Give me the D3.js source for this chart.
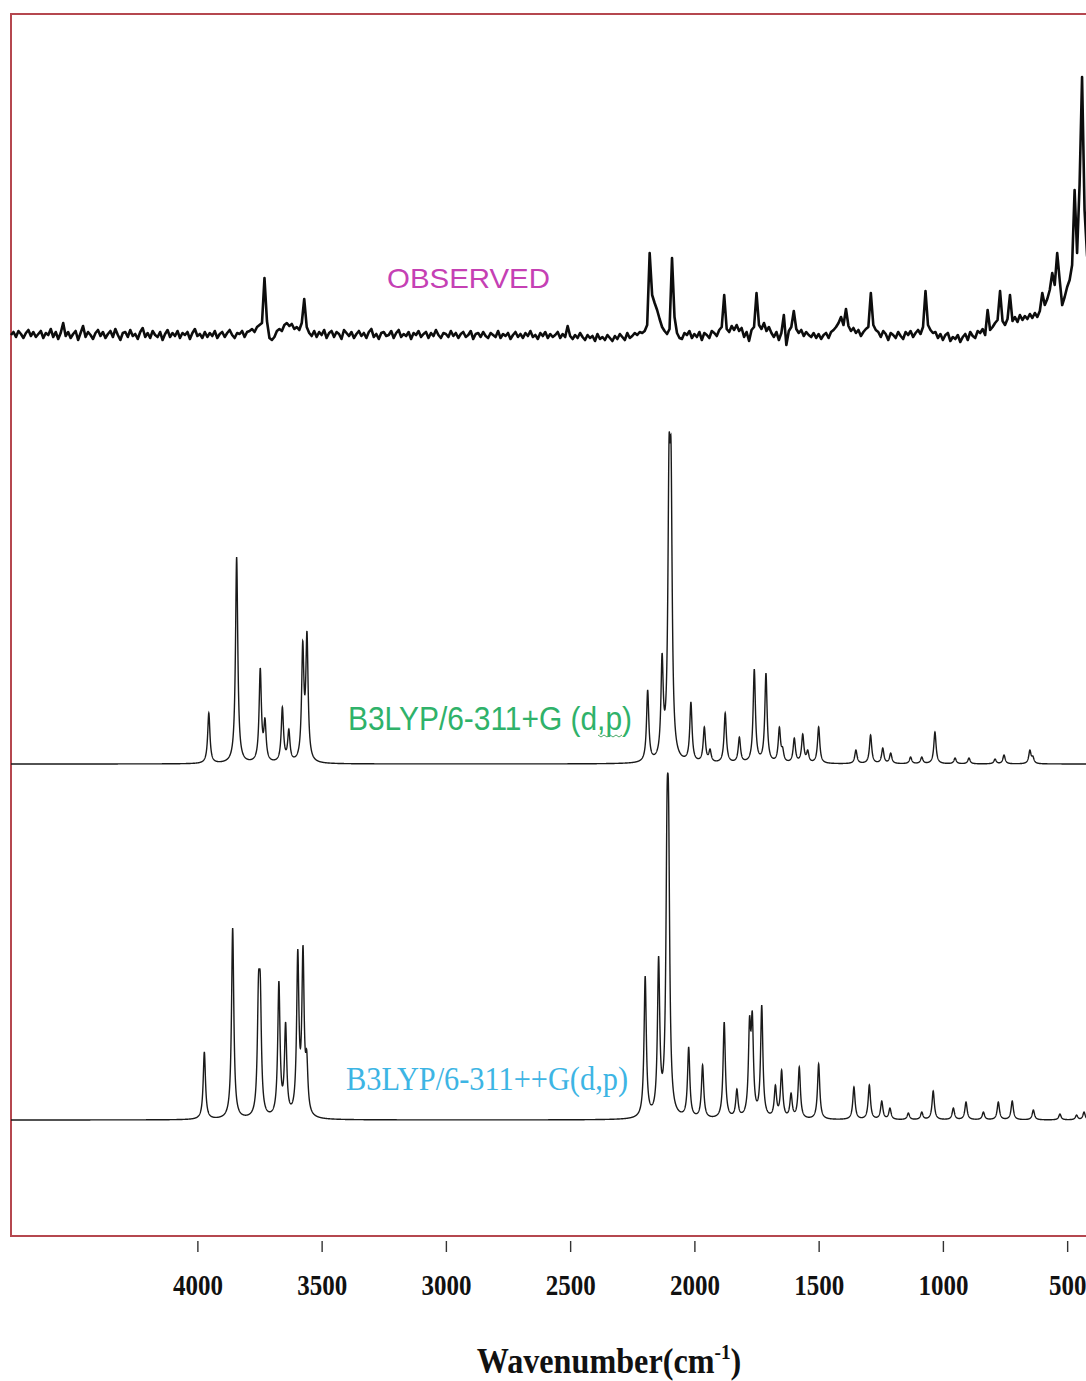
<!DOCTYPE html>
<html><head><meta charset="utf-8">
<script src="https://cdn.jsdelivr.net/npm/d3@7"></script>
<style>body{margin:0;background:#fff} svg{display:block}</style>
</head><body><svg id="c" width="1086" height="1381"></svg>
<script>
// ---------- data ----------
const tickValues = [4000, 3500, 3000, 2500, 2000, 1500, 1000, 500];
const tickLabels = ["4000", "3500", "3000", "2500", "2000", "1500", "1000", "500"];
const seriesNames = ["OBSERVED", "B3LYP/6-311+G (d,p)", "B3LYP/6-311++G(d,p)"];
const axisTitle = "Wavenumber(cm";

// observed spectrum: intensity (a.u.) every 10 cm-1 starting at 4750 cm-1
const obsStart = 4750, obsStep = 10;
const obsValues = [
  0, 3, -2, 4, 1, -3, 2, 5, -1, 3,
  -2, 1, 4, -3, 2, 0, 6, -2, 3, -4,
  2, 12, -1, 3, -3, 1, 4, -5, 2, 9,
  -2, 3, 0, -4, 2, 5, -1, 3, -3, 1,
  4, -2, 6, 0, -5, 2, 3, -2, 5, -1,
  1, -4, 3, 7, -2, 2, -3, 4, 0, -2,
  3, -5, 1, 5, -2, 2, -1, 4, -3, 2,
  0, 3, -4, 2, 6, -1, 1, -3, 3, -2,
  2, -1, 4, -3, 1, 3, -2, 2, 5, 0,
  -3, 2, 1, 4, -2, 3, 4, 6, 3, 8,
  10, 12, 57, 14, -3, -5, -2, 4, 6, 4,
  10, 12, 9, 11, 6, 8, 5, 12, 36, 8,
  2, -1, 4, -2, 3, 0, 5, -3, 2, 4,
  -2, 3, 1, -4, 5, 2, -1, 3, -3, 1,
  4, -1, 2, -3, 3, 6, -2, 1, -4, 2,
  3, -1, 0, 4, -3, 2, 5, -2, 1, -1,
  3, -4, 2, 0, 4, -2, 1, 3, -3, 2,
  -1, 5, 0, -3, 2, 1, -2, 4, -1, 2,
  -3, 1, 3, -2, 0, 4, -4, 1, 2, -2,
  3, -1, -3, 2, 0, -2, 4, -3, 1, -1,
  2, -4, 0, 3, -2, 1, -3, 2, -1, 4,
  -2, 0, -4, 2, -1, 3, -3, 1, -2, 0,
  3, -3, 1, -2, 9, -1, -4, 0, -3, 2,
  -2, -5, 0, -3, -1, -6, 1, -4, -2, -5,
  0, -3, -6, -1, -4, 1, -2, -5, 2, -3,
  -1, 2, 0, 3, 2, 4, 10, 82, 40, 32,
  25, 16, 8, 4, 1, 6, 77, 18, 2, -3,
  -4, 2, 0, 4, -3, 1, -2, 3, -5, 2,
  0, -3, 4, 2, -1, 5, 8, 40, 6, 3,
  9, 5, 10, 4, 7, -2, 3, -6, 5, 8,
  42, 10, 6, 12, 4, 8, 2, -2, 3, -5,
  2, 20, -10, 4, 8, 24, 6, 2, 5, -1,
  3, 0, -2, 2, -3, 1, -4, 0, 2, -3,
  3, 5, 8, 12, 18, 10, 26, 9, 4, 7,
  2, 5, -1, 3, 6, 8, 42, 10, 5, 3,
  -2, 4, 1, -5, 2, 0, -3, 3, -1, -4,
  3, 0, 4, -2, 2, 5, 1, 8, 44, 10,
  5, 2, 3, -3, 1, -5, 0, 2, -6, -2,
  -4, 0, -7, -2, 1, -5, 3, -1, -3, 4,
  2, 6, 0, 25, 5, 8, 12, 15, 44, 14,
  10, 16, 40, 14, 18, 13, 20, 15, 19, 16,
  21, 17, 22, 18, 24, 42, 30, 36, 45, 62,
  50, 82, 55, 30, 38, 48, 55, 70, 145, 82,
  150, 258, 125, 80, 60, 50
];

// B3LYP/6-311+G(d,p): band positions (cm-1) and peak heights (a.u.)
const calc1Centers = [3954, 3842, 3747, 3728, 3658, 3632, 3576, 3559, 2188, 2130, 2102, 2094, 2014, 1960, 1937, 1876, 1819, 1759, 1712, 1658, 1645, 1598, 1564, 1544, 1500, 1350, 1291, 1242, 1210, 1130, 1085, 1032, 951, 895, 790, 754, 650, 638];
const calc1Heights = [51, 207, 96, 46, 57, 35, 123, 133, 74, 111, 326, 322, 62, 37, 15, 51, 27, 95, 91, 37, 17, 26, 30, 14, 37, 14, 29, 16, 11, 7, 7, 32, 6, 6, 5, 9, 14, 8];

// B3LYP/6-311++G(d,p)
const calc2Centers = [3972, 3858, 3754, 3747, 3672, 3645, 3596, 3575, 3560, 2198, 2144, 2110, 2104, 2023, 1967, 1880, 1829, 1778, 1767, 1729, 1674, 1649, 1611, 1578, 1500, 1358, 1296, 1246, 1213, 1139, 1085, 1039, 958, 907, 837, 777, 721, 636, 529, 462, 432];
const calc2Heights = [68, 192, 146, 146, 139, 98, 171, 175, 70, 144, 164, 328, 328, 73, 55, 98, 31, 104, 109, 115, 35, 50, 27, 53, 56, 33, 35, 19, 12, 7, 8, 29, 12, 18, 8, 18, 19, 10, 6, 5, 8];

// ---------- drawing ----------
const svg = d3.select("#c");
const x = d3.scaleLinear().domain([4750, 400]).range([11, 1092]);

const yObs = d3.scaleLinear().domain([0, 260]).range([335, 75]);
const yC1 = d3.scaleLinear().domain([0, 330]).range([764, 434]);
const yC2 = d3.scaleLinear().domain([0, 330]).range([1120, 790]);

function lorentzSpectrum(centers, heights, g) {
  const L = d => 1 / (1 + (d / g) * (d / g));
  const A = heights.slice();
  for (let it = 0; it < 300; it++) {
    for (let i = 0; i < centers.length; i++) {
      let s = 0;
      for (let j = 0; j < centers.length; j++) s += A[j] * L(centers[i] - centers[j]);
      A[i] = Math.max(0, A[i] + 0.5 * (heights[i] - s));
    }
  }
  const pts = [];
  for (let w = 4750; w >= 400; w -= 0.5) {
    let s = 0;
    for (let j = 0; j < centers.length; j++) s += A[j] * L(w - centers[j]);
    pts.push({ w, v: s });
  }
  return pts;
}

// frame
svg.append("rect")
  .attr("x", 11).attr("y", 14).attr("width", 1110).attr("height", 1222)
  .attr("fill", "none").attr("stroke", "#b5474f").attr("stroke-width", 2);

const obsPts = obsValues.map((v, i) => ({ w: obsStart - obsStep * i, v }));
svg.append("path").datum(obsPts)
  .attr("d", d3.line().x(d => x(d.w)).y(d => yObs(d.v)))
  .attr("fill", "none").attr("stroke", "#0d0d0d").attr("stroke-width", 2.6)
  .attr("stroke-linejoin", "round");

const c1 = lorentzSpectrum(calc1Centers, calc1Heights, 5.5);
svg.append("path").datum(c1)
  .attr("d", d3.line().x(d => x(d.w)).y(d => yC1(d.v)))
  .attr("fill", "none").attr("stroke", "#1a1a1a").attr("stroke-width", 1.4);

const c2 = lorentzSpectrum(calc2Centers, calc2Heights, 5.5);
svg.append("path").datum(c2)
  .attr("d", d3.line().x(d => x(d.w)).y(d => yC2(d.v)))
  .attr("fill", "none").attr("stroke", "#1a1a1a").attr("stroke-width", 1.4);

// series labels
svg.append("text").text(seriesNames[0])
  .attr("x", 387).attr("y", 288)
  .attr("font-family", "'Liberation Sans', Arial, sans-serif").attr("font-size", 28)
  .attr("fill", "#c540b4").attr("textLength", 163).attr("lengthAdjust", "spacingAndGlyphs");

svg.append("text").text(seriesNames[1])
  .attr("x", 348).attr("y", 730)
  .attr("font-family", "'Liberation Sans Narrow', 'Arial Narrow', 'Liberation Sans', sans-serif").attr("font-size", 34)
  .attr("fill", "#2fb26a").attr("textLength", 284).attr("lengthAdjust", "spacingAndGlyphs");
// spell-check squiggle under "d,p"
svg.append("path")
  .attr("d", d3.line()(d3.range(0, 9).map(i => [598 + i * 3, 735 + (i % 2 ? 2 : 0)])))
  .attr("fill", "none").attr("stroke", "#4aa86a").attr("stroke-width", 1);

svg.append("text").text(seriesNames[2])
  .attr("x", 346).attr("y", 1090)
  .attr("font-family", "'Liberation Serif', 'Times New Roman', serif").attr("font-size", 34)
  .attr("fill", "#3db5e4").attr("textLength", 282).attr("lengthAdjust", "spacingAndGlyphs");

// axis
const axis = d3.axisBottom(x).tickValues(tickValues).tickSize(11)
  .tickFormat((d, i) => tickLabels[i]);
const ag = svg.append("g").attr("transform", "translate(0,1241)").call(axis);
ag.select(".domain").remove();
ag.selectAll(".tick line").attr("stroke", "#333").attr("stroke-width", 1.4);
ag.selectAll(".tick text")
  .attr("y", 43).attr("dy", "0.35em")
  .attr("font-family", "'Liberation Serif', 'Times New Roman', serif")
  .attr("font-weight", "bold").attr("font-size", 30).attr("fill", "#111")
  .attr("textLength", d => String(d).length * 12.5).attr("lengthAdjust", "spacingAndGlyphs");

// axis title
const t = svg.append("text")
  .attr("transform", "translate(609,1373) scale(0.92,1)")
  .attr("text-anchor", "middle")
  .attr("font-family", "'Liberation Serif', 'Times New Roman', serif")
  .attr("font-weight", "bold").attr("font-size", 35).attr("fill", "#111");
t.append("tspan").text(axisTitle);
t.append("tspan").text("-1").attr("font-size", 21).attr("dy", -14);
t.append("tspan").text(")").attr("dy", 14);
</script></body></html>
